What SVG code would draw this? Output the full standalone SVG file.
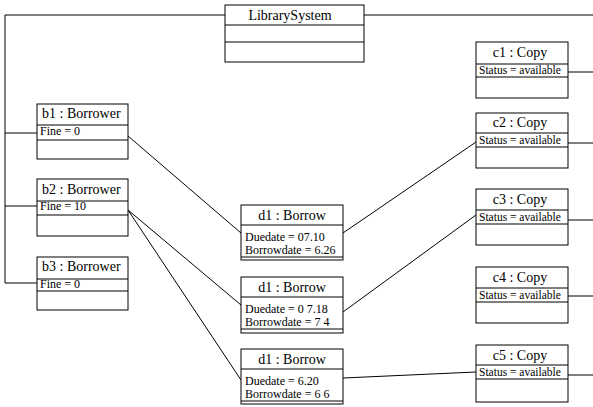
<svg xmlns="http://www.w3.org/2000/svg" width="593" height="407" viewBox="0 0 593 407">
<style>
.box{fill:#fff;stroke:#000;stroke-width:1}
.ln{stroke:#000;stroke-width:1;fill:none}
.t{font-family:"Liberation Serif","Times New Roman",serif;font-size:14px;fill:#000}
.a{font-family:"Liberation Serif","Times New Roman",serif;font-size:12px;fill:#000}
.s{font-family:"Liberation Serif","Times New Roman",serif;font-size:11.5px;fill:#000}
.c{text-anchor:middle}
</style>
<rect width="593" height="407" fill="#fff"/>
<g id="connectors" class="ln">
<polyline points="225,15 5,15 5,283"/>
<line x1="364" y1="15" x2="593" y2="15"/>
<line x1="5" y1="133" x2="37" y2="133"/>
<line x1="5" y1="206" x2="37" y2="206"/>
<line x1="5" y1="283" x2="37" y2="283"/>
<line x1="128" y1="136" x2="241" y2="233"/>
<line x1="128" y1="210" x2="241" y2="305"/>
<line x1="128" y1="210" x2="241" y2="380"/>
<line x1="343" y1="233" x2="476" y2="142"/>
<line x1="343" y1="312" x2="476" y2="215"/>
<line x1="343" y1="378" x2="476" y2="372"/>
<line x1="568" y1="72" x2="593" y2="72"/>
<line x1="568" y1="143" x2="593" y2="143"/>
<line x1="568" y1="220" x2="593" y2="220"/>
<line x1="568" y1="296" x2="593" y2="296"/>
<line x1="568" y1="375" x2="593" y2="375"/>
</g>
<g id="librarysystem">
<rect class="box" x="225" y="5" width="139" height="57"/>
<line class="ln" x1="225" y1="25" x2="364" y2="25"/>
<line class="ln" x1="225" y1="42" x2="364" y2="42"/>
<text class="t c" x="290" y="20">LibrarySystem</text>
</g>
<g id="b1">
<rect class="box" x="37" y="104" width="91" height="55"/>
<line class="ln" x1="37" y1="125" x2="128" y2="125"/>
<line class="ln" x1="37" y1="140" x2="128" y2="140"/>
<text class="t" x="42" y="118">b1 : Borrower</text>
<text class="a" x="40" y="135">Fine = 0</text>
</g>
<g id="b2">
<rect class="box" x="37" y="179" width="91" height="57"/>
<line class="ln" x1="37" y1="201" x2="128" y2="201"/>
<line class="ln" x1="37" y1="215" x2="128" y2="215"/>
<text class="t" x="42" y="194">b2 : Borrower</text>
<text class="a" x="40" y="210">Fine = 10</text>
</g>
<g id="b3">
<rect class="box" x="37" y="257" width="91" height="53"/>
<line class="ln" x1="37" y1="279" x2="128" y2="279"/>
<line class="ln" x1="37" y1="291" x2="128" y2="291"/>
<text class="t" x="42" y="271">b3 : Borrower</text>
<text class="a" x="40" y="288">Fine = 0</text>
</g>
<g id="d1a">
<rect class="box" x="241" y="205" width="102" height="55"/>
<line class="ln" x1="241" y1="225" x2="343" y2="225"/>
<line class="ln" x1="241" y1="257" x2="343" y2="257"/>
<text class="t c" x="292" y="220">d1 : Borrow</text>
<text class="a" x="245" y="241">Duedate = 07.10</text>
<text class="a" x="245" y="254">Borrowdate = 6.26</text>
</g>
<g id="d1b">
<rect class="box" x="241" y="277" width="102" height="56"/>
<line class="ln" x1="241" y1="297" x2="343" y2="297"/>
<line class="ln" x1="241" y1="329" x2="343" y2="329"/>
<text class="t c" x="292" y="292">d1 : Borrow</text>
<text class="a" x="245" y="313">Duedate = 0 7.18</text>
<text class="a" x="245" y="326">Borrowdate = 7 4</text>
</g>
<g id="d1c">
<rect class="box" x="241" y="349" width="102" height="55"/>
<line class="ln" x1="241" y1="369" x2="343" y2="369"/>
<line class="ln" x1="241" y1="401" x2="343" y2="401"/>
<text class="t c" x="292" y="364">d1 : Borrow</text>
<text class="a" x="245" y="385">Duedate = 6.20</text>
<text class="a" x="245" y="398">Borrowdate = 6 6</text>
</g>
<g id="c1">
<rect class="box" x="476" y="42" width="92" height="56"/>
<line class="ln" x1="476" y1="64" x2="568" y2="64"/>
<line class="ln" x1="476" y1="77" x2="568" y2="77"/>
<text class="t c" x="520" y="57">c1 : Copy</text>
<text class="s" x="479" y="74">Status = available</text>
</g>
<g id="c2">
<rect class="box" x="476" y="113" width="92" height="55"/>
<line class="ln" x1="476" y1="133" x2="568" y2="133"/>
<line class="ln" x1="476" y1="147" x2="568" y2="147"/>
<text class="t c" x="520" y="127">c2 : Copy</text>
<text class="s" x="479" y="144">Status = available</text>
</g>
<g id="c3">
<rect class="box" x="476" y="189" width="92" height="56"/>
<line class="ln" x1="476" y1="210" x2="568" y2="210"/>
<line class="ln" x1="476" y1="224" x2="568" y2="224"/>
<text class="t c" x="520" y="204">c3 : Copy</text>
<text class="s" x="479" y="221">Status = available</text>
</g>
<g id="c4">
<rect class="box" x="476" y="267" width="92" height="56"/>
<line class="ln" x1="476" y1="288" x2="568" y2="288"/>
<line class="ln" x1="476" y1="302" x2="568" y2="302"/>
<text class="t c" x="520" y="282">c4 : Copy</text>
<text class="s" x="479" y="299">Status = available</text>
</g>
<g id="c5">
<rect class="box" x="476" y="345" width="92" height="57"/>
<line class="ln" x1="476" y1="365" x2="568" y2="365"/>
<line class="ln" x1="476" y1="379" x2="568" y2="379"/>
<text class="t c" x="520" y="360">c5 : Copy</text>
<text class="s" x="479" y="376">Status = available</text>
</g>
</svg>
